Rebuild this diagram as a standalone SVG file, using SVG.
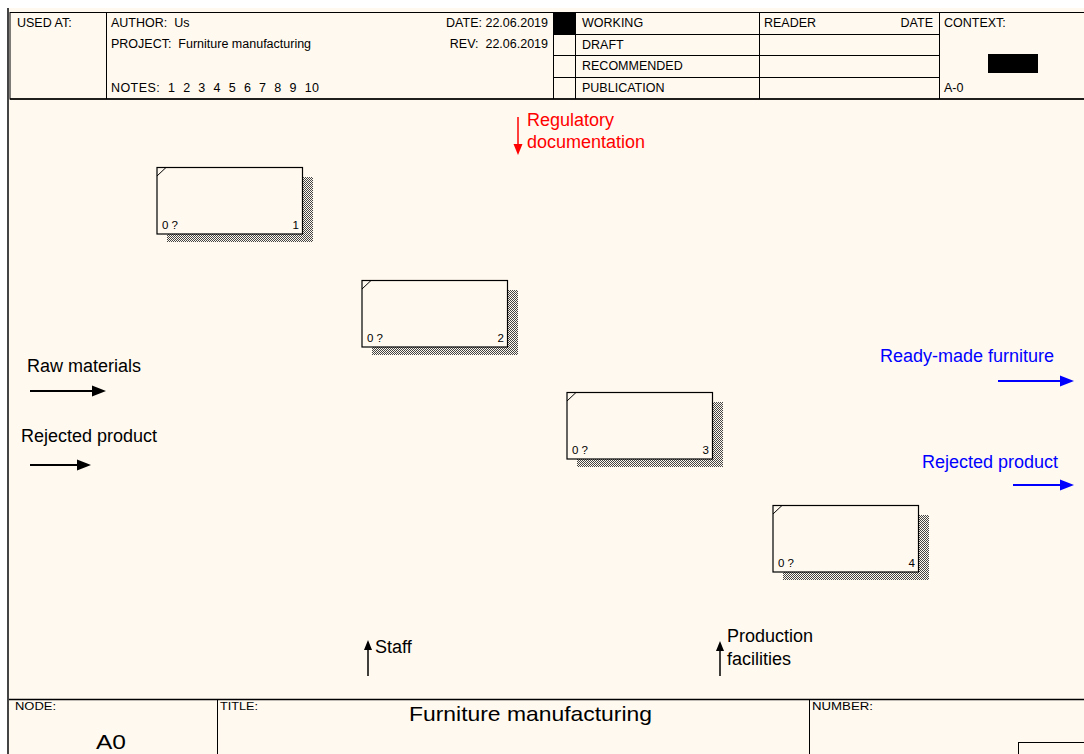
<svg xmlns="http://www.w3.org/2000/svg" width="1084" height="754" viewBox="0 0 1084 754">
<style>
.t{font-family:"Liberation Sans",Arial,sans-serif;fill:#000}
.h{font-size:12.5px}
.s{font-size:11.5px}
.lbl{font-size:18px}
.ln{stroke:#000;stroke-width:1;fill:none}
.box{fill:#FFF9EF;stroke:#000;stroke-width:1.2}
.sh{fill:url(#hatch)}
</style>
<defs>
<pattern id="hatch" width="2" height="2" patternUnits="userSpaceOnUse">
<rect x="0" y="0" width="1" height="1" fill="#444"/>
<rect x="1" y="1" width="1" height="1" fill="#444"/>
</pattern>
<path id="headR" d="M-14,-5.5 L0,0 L-14,5.5 z"/>
<path id="headUp" d="M-4,10 L0,0 L4,10 z"/>
<path id="headDown" d="M-4.5,-11 L0,0 L4.5,-11 z"/>
</defs>
<rect x="0" y="0" width="1084" height="754" fill="#FFFFFF"/>
<rect x="8" y="8" width="1076" height="746" fill="#FFF9EF"/>
<rect x="7" y="8" width="2" height="746" fill="#444"/>

<g id="header">
<rect x="10" y="12.5" width="1080" height="86.5" class="ln"/>
<line x1="10" y1="99" x2="1084" y2="99" stroke="#000" stroke-width="1.5"/>
<line x1="106.5" y1="12" x2="106.5" y2="99" class="ln"/>
<line x1="553.5" y1="12" x2="553.5" y2="99" class="ln"/>
<line x1="575.5" y1="12" x2="575.5" y2="99" class="ln"/>
<line x1="759.5" y1="12" x2="759.5" y2="99" class="ln"/>
<line x1="939.5" y1="12" x2="939.5" y2="99" class="ln"/>
<line x1="553" y1="34.5" x2="939" y2="34.5" class="ln"/>
<line x1="553" y1="55.5" x2="939" y2="55.5" class="ln"/>
<line x1="553" y1="77.5" x2="939" y2="77.5" class="ln"/>
<rect x="553" y="13" width="22" height="21" fill="#000"/>
<rect x="988" y="54" width="50" height="19" fill="#000"/>
<text class="t h" x="17" y="27">USED AT:</text>
<text class="t h" x="111" y="27" xml:space="preserve">AUTHOR:  Us</text>
<text class="t h" x="111" y="48" xml:space="preserve">PROJECT:  Furniture manufacturing</text>
<text class="t h" x="111" y="92" xml:space="preserve" textLength="208" lengthAdjust="spacing">NOTES:  1  2  3  4  5  6  7  8  9  10</text>
<text class="t h" x="548" y="27" text-anchor="end">DATE: 22.06.2019</text>
<text class="t h" x="548" y="48" text-anchor="end" xml:space="preserve">REV:  22.06.2019</text>
<text class="t h" x="582" y="27">WORKING</text>
<text class="t h" x="582" y="49">DRAFT</text>
<text class="t h" x="582" y="70">RECOMMENDED</text>
<text class="t h" x="582" y="92">PUBLICATION</text>
<text class="t h" x="764" y="27">READER</text>
<text class="t h" x="933" y="27" text-anchor="end">DATE</text>
<text class="t h" x="944" y="27">CONTEXT:</text>
<text class="t h" x="944" y="92">A-0</text>
</g>

<g id="node1">
<rect class="sh" x="303" y="177" width="10" height="65"/>
<rect class="sh" x="167" y="234" width="146" height="8"/>
<rect class="box" x="157" y="167.5" width="145.5" height="66.5"/>
<line x1="157" y1="176" x2="166" y2="167.5" class="ln"/>
<text class="t s" x="162" y="229">0 ?</text>
<text class="t s" x="299" y="229" text-anchor="end">1</text>
</g>
<g id="node2">
<rect class="sh" x="508" y="290" width="10" height="65"/>
<rect class="sh" x="372" y="347" width="146" height="8"/>
<rect class="box" x="362" y="280.5" width="145.5" height="66.5"/>
<line x1="362" y1="289" x2="371" y2="280.5" class="ln"/>
<text class="t s" x="367" y="342">0 ?</text>
<text class="t s" x="504" y="342" text-anchor="end">2</text>
</g>
<g id="node3">
<rect class="sh" x="713" y="402" width="10" height="65"/>
<rect class="sh" x="577" y="459" width="146" height="8"/>
<rect class="box" x="567" y="392.5" width="145.5" height="66.5"/>
<line x1="567" y1="401" x2="576" y2="392.5" class="ln"/>
<text class="t s" x="572" y="454">0 ?</text>
<text class="t s" x="709" y="454" text-anchor="end">3</text>
</g>
<g id="node4">
<rect class="sh" x="919" y="515" width="10" height="65"/>
<rect class="sh" x="783" y="572" width="146" height="8"/>
<rect class="box" x="773" y="505.5" width="145.5" height="66.5"/>
<line x1="773" y1="514" x2="782" y2="505.5" class="ln"/>
<text class="t s" x="778" y="567">0 ?</text>
<text class="t s" x="915" y="567" text-anchor="end">4</text>
</g>

<g id="connectors">
<line x1="518" y1="117" x2="518" y2="146" stroke="#FF0000" stroke-width="1.5"/>
<use href="#headDown" x="518" y="155" fill="#FF0000"/>
<line x1="30" y1="391" x2="95" y2="391" stroke="#000" stroke-width="2"/>
<use href="#headR" x="106" y="391" fill="#000"/>
<line x1="30" y1="465" x2="80" y2="465" stroke="#000" stroke-width="2"/>
<use href="#headR" x="91" y="465" fill="#000"/>
<line x1="998" y1="381" x2="1062" y2="381" stroke="#0000FF" stroke-width="2"/>
<use href="#headR" x="1074" y="381" fill="#0000FF"/>
<line x1="1013" y1="485" x2="1062" y2="485" stroke="#0000FF" stroke-width="2"/>
<use href="#headR" x="1074" y="485" fill="#0000FF"/>
<line x1="368" y1="676" x2="368" y2="648" stroke="#000" stroke-width="1.5"/>
<use href="#headUp" x="368" y="640" fill="#000"/>
<line x1="720" y1="676" x2="720" y2="649" stroke="#000" stroke-width="1.5"/>
<use href="#headUp" x="720" y="641" fill="#000"/>
<text class="t lbl" x="527" y="126" style="fill:#FF0000">Regulatory</text>
<text class="t lbl" x="527" y="148" style="fill:#FF0000">documentation</text>
<text class="t lbl" x="27" y="372">Raw materials</text>
<text class="t lbl" x="21" y="442">Rejected product</text>
<text class="t lbl" x="1054" y="362" text-anchor="end" style="fill:#0000FF">Ready-made furniture</text>
<text class="t lbl" x="1058" y="468" text-anchor="end" style="fill:#0000FF">Rejected product</text>
<text class="t lbl" x="375" y="653">Staff</text>
<text class="t lbl" x="727" y="642">Production</text>
<text class="t lbl" x="727" y="665">facilities</text>
</g>

<g id="footer">
<line x1="9" y1="699.5" x2="1084" y2="699.5" stroke="#000" stroke-width="1.5"/>
<line x1="217.5" y1="699" x2="217.5" y2="754" class="ln"/>
<line x1="809.5" y1="699" x2="809.5" y2="754" class="ln"/>
<rect x="1018.5" y="742.5" width="80" height="20" class="ln"/>
<text class="t" x="15" y="710" font-size="10" textLength="41" lengthAdjust="spacingAndGlyphs">NODE:</text>
<text class="t" x="220" y="710" font-size="10" textLength="38" lengthAdjust="spacingAndGlyphs">TITLE:</text>
<text class="t" x="812" y="710" font-size="10" textLength="61" lengthAdjust="spacingAndGlyphs">NUMBER:</text>
<text class="t" x="96" y="749" font-size="21" textLength="30" lengthAdjust="spacingAndGlyphs">A0</text>
<text class="t" x="409" y="721" font-size="21" textLength="243" lengthAdjust="spacingAndGlyphs">Furniture manufacturing</text>
</g>
</svg>
